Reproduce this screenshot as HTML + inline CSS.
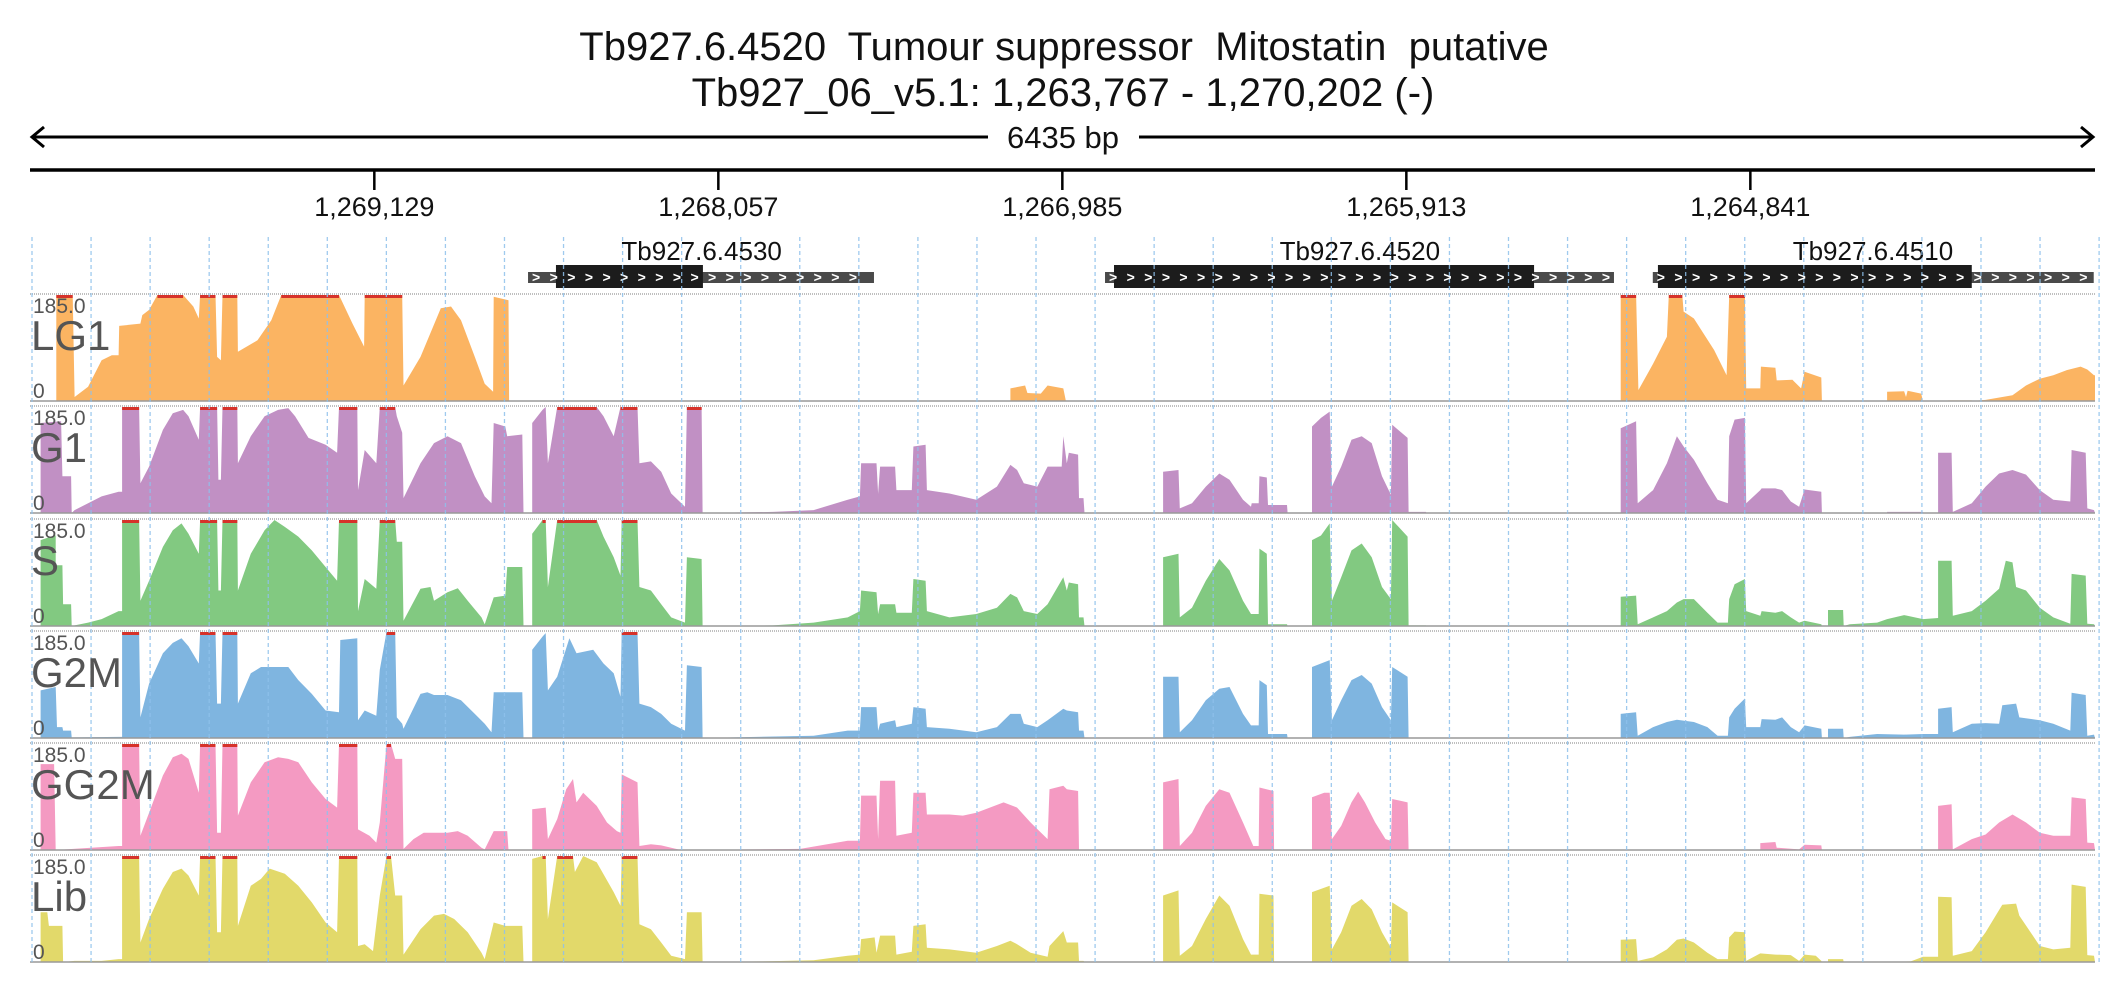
<!DOCTYPE html>
<html><head><meta charset="utf-8"><style>
html,body{margin:0;padding:0;background:#fff;width:2126px;height:1000px;overflow:hidden}
svg{display:block;font-family:"Liberation Sans",sans-serif}
text{white-space:pre}
</style></head><body>
<svg id="chart" width="2126" height="1000" viewBox="0 0 2126 1000" xmlns="http://www.w3.org/2000/svg">
<text x="1064" y="60" font-size="40" text-anchor="middle" fill="#111" xml:space="preserve">Tb927.6.4520  Tumour suppressor  Mitostatin  putative</text>
<text x="1063" y="106" font-size="40" text-anchor="middle" fill="#111">Tb927_06_v5.1: 1,263,767 - 1,270,202 (-)</text>
<g id="ruler"></g>
<g id="axis"></g>
<g id="genes"></g>
<g id="tracks"></g>
<g id="grid"></g>
<g id="labels"></g>
</svg>
<script>
const regionStart = 1270202;
const regionEnd = 1263767;
const spanLabel = "6435 bp";
const tickPositions = [1269129, 1268057, 1266985, 1265913, 1264841];
const tickLabels = ["1,269,129", "1,268,057", "1,266,985", "1,265,913", "1,264,841"];
const geneNames = ["Tb927.6.4530", "Tb927.6.4520", "Tb927.6.4510"];
const geneUtr = [[1552, 2630], [3350, 4936], [5057, 6431]];
const geneCds = [[1639, 2097], [3378, 4687], [5073, 6051]];
const geneLabelPos = [2093, 4144, 5743];
const trackNames = ["LG1", "G1", "S", "G2M", "GG2M", "Lib"];
const trackMax = 185;

const lg1Cov = [[0,0],[82,0],[82,185],[133,185],[139,7],[181,25],[223,71],[255,80],[276,80],[278,131],[344,135],[350,150],[371,159],[397,185],[477,185],[509,165],[526,144],[530,185],[578,185],[583,77],[595,71],[600,185],[646,185],[648,86],[709,106],[752,141],[783,185],[963,185],[1005,135],[1041,95],[1043,185],[1160,185],[1164,27],[1217,77],[1280,162],[1312,165],[1343,141],[1386,77],[1417,30],[1443,16],[1445,182],[1491,176],[1493,0],[3055,0],[3055,22],[3101,27],[3108,14],[3150,13],[3171,27],[3220,22],[3228,0],[4957,0],[4957,185],[5005,185],[5012,19],[5058,65],[5101,112],[5107,185],[5149,185],[5153,156],[5185,144],[5248,89],[5287,45],[5295,185],[5344,185],[5348,22],[5392,22],[5394,60],[5439,58],[5443,36],[5492,37],[5519,22],[5530,51],[5582,41],[5584,0],[5787,0],[5787,16],[5840,17],[5846,7],[5851,18],[5893,13],[5899,0],[5977,0],[5977,1],[6051,1],[6051,0],[6094,2],[6178,10],[6220,27],[6263,39],[6305,45],[6347,54],[6390,60],[6411,55],[6432,45],[6435,45],[6435,0]];
const g1Cov = [[0,0],[33,0],[33,157],[97,160],[101,64],[128,64],[130,0],[139,5],[181,17],[223,29],[276,37],[287,37],[287,185],[340,185],[344,52],[371,81],[414,145],[445,174],[477,180],[494,169],[526,128],[530,185],[583,185],[587,58],[595,58],[600,185],[646,185],[648,87],[688,134],[731,169],[773,180],[805,183],[826,169],[868,131],[921,119],[957,105],[963,185],[1020,185],[1022,40],[1043,110],[1079,87],[1090,185],[1138,185],[1143,169],[1160,140],[1164,26],[1217,87],[1259,122],[1301,134],[1343,122],[1386,64],[1417,29],[1438,17],[1445,157],[1481,151],[1487,134],[1534,137],[1538,0],[1565,0],[1565,157],[1597,180],[1607,185],[1614,87],[1643,185],[1766,185],[1787,169],[1819,134],[1840,185],[1893,185],[1899,87],[1935,90],[1967,72],[1998,34],[2041,11],[2047,185],[2093,185],[2096,0],[2315,2],[2442,5],[2548,23],[2586,29],[2590,87],[2638,87],[2643,34],[2649,81],[2696,81],[2700,40],[2748,40],[2753,116],[2791,119],[2795,40],[2865,34],[2949,23],[3013,46],[3055,84],[3076,75],[3097,52],[3139,46],[3171,81],[3215,81],[3220,134],[3231,87],[3237,105],[3266,102],[3269,26],[3283,26],[3286,0],[3531,0],[3531,72],[3579,75],[3583,8],[3621,17],[3664,46],[3706,69],[3738,58],[3780,23],[3805,11],[3807,17],[3829,17],[3831,64],[3854,62],[3858,14],[3917,14],[3919,0],[3995,0],[3995,151],[4023,166],[4050,177],[4057,46],[4086,81],[4118,128],[4150,134],[4181,122],[4213,64],[4241,32],[4245,154],[4293,131],[4296,2],[4350,2],[4352,0],[4957,0],[4957,148],[5005,160],[5010,17],[5058,40],[5101,87],[5132,134],[5153,116],[5185,93],[5227,52],[5259,23],[5291,17],[5295,134],[5312,163],[5344,166],[5348,17],[5392,40],[5396,43],[5439,43],[5460,40],[5487,20],[5513,11],[5530,41],[5582,37],[5584,0],[5787,0],[5787,2],[5899,2],[5900,0],[5946,0],[5946,105],[5988,105],[5992,2],[6051,17],[6094,46],[6136,69],[6178,75],[6220,67],[6263,40],[6305,23],[6358,20],[6362,110],[6406,105],[6411,8],[6432,5],[6435,0]];
const sCov = [[0,0],[33,0],[33,150],[75,158],[80,158],[80,106],[101,106],[103,38],[128,38],[130,0],[139,1],[181,6],[223,12],[276,26],[287,26],[287,185],[340,185],[344,44],[371,79],[414,138],[445,167],[472,179],[494,161],[526,126],[530,185],[583,185],[587,62],[595,62],[600,185],[646,185],[648,62],[688,126],[731,167],[762,185],[794,173],[836,156],[878,132],[921,103],[957,79],[963,185],[1020,185],[1022,26],[1043,82],[1079,65],[1090,185],[1138,185],[1143,147],[1160,147],[1164,9],[1217,65],[1248,68],[1259,44],[1301,59],[1333,66],[1364,44],[1407,15],[1417,3],[1445,50],[1481,53],[1487,103],[1534,103],[1538,0],[1565,0],[1565,161],[1597,185],[1607,185],[1614,68],[1643,185],[1766,185],[1787,156],[1819,120],[1840,88],[1844,185],[1893,185],[1899,68],[1935,62],[1967,38],[1998,15],[2041,6],[2047,120],[2093,117],[2096,0],[2315,1],[2442,6],[2548,15],[2586,26],[2590,62],[2638,59],[2643,21],[2649,38],[2696,38],[2700,23],[2748,23],[2753,82],[2791,79],[2795,26],[2865,15],[2949,21],[3013,32],[3055,56],[3076,50],[3097,26],[3139,21],[3171,38],[3220,85],[3231,62],[3237,76],[3266,73],[3269,15],[3283,15],[3286,0],[3531,0],[3531,120],[3579,126],[3583,15],[3621,32],[3664,79],[3706,117],[3738,97],[3780,44],[3805,21],[3829,21],[3831,135],[3854,126],[3858,3],[3917,3],[3919,0],[3995,0],[3995,150],[4023,158],[4050,179],[4057,44],[4086,85],[4118,132],[4150,144],[4181,120],[4213,68],[4241,47],[4245,185],[4293,156],[4296,1],[4350,1],[4352,0],[4957,0],[4957,51],[5005,53],[5010,3],[5058,15],[5101,26],[5132,41],[5153,47],[5185,47],[5227,23],[5259,6],[5291,6],[5295,47],[5312,73],[5344,82],[5348,26],[5392,18],[5396,26],[5439,23],[5460,26],[5487,15],[5513,6],[5530,9],[5582,3],[5584,0],[5603,0],[5603,28],[5650,28],[5652,0],[5671,3],[5756,6],[5787,12],[5840,19],[5899,12],[5946,14],[5946,114],[5988,114],[5992,18],[6051,26],[6094,44],[6136,65],[6157,114],[6178,111],[6189,68],[6220,62],[6263,32],[6305,15],[6358,4],[6362,91],[6406,88],[6411,4],[6432,3],[6435,0]];
const g2mCov = [[0,0],[33,0],[33,83],[80,89],[84,19],[101,19],[103,13],[128,13],[130,1],[276,2],[287,2],[287,185],[340,185],[344,36],[371,95],[414,148],[445,166],[472,174],[494,160],[526,130],[530,185],[578,185],[583,60],[595,60],[600,185],[646,185],[648,60],[688,113],[720,124],[752,124],[805,124],[836,101],[878,77],[921,48],[963,45],[967,171],[1020,174],[1022,31],[1043,48],[1079,39],[1090,119],[1111,185],[1138,185],[1143,36],[1160,25],[1164,16],[1217,77],[1238,80],[1259,75],[1301,75],[1343,66],[1386,42],[1417,25],[1438,10],[1445,80],[1534,80],[1538,0],[1565,0],[1565,154],[1597,177],[1607,183],[1614,83],[1643,107],[1681,174],[1703,148],[1755,154],[1787,130],[1819,113],[1840,72],[1844,185],[1893,185],[1899,60],[1935,54],[1967,42],[1998,25],[2041,13],[2047,127],[2093,124],[2096,0],[2442,4],[2548,13],[2586,13],[2590,54],[2638,54],[2643,13],[2649,25],[2696,31],[2700,19],[2748,25],[2753,54],[2791,51],[2795,19],[2865,16],[2949,10],[3013,19],[3055,42],[3087,42],[3097,25],[3139,19],[3171,31],[3220,51],[3231,48],[3266,45],[3269,13],[3283,13],[3286,0],[3531,0],[3531,107],[3579,107],[3583,10],[3621,31],[3664,66],[3706,86],[3738,89],[3780,42],[3805,22],[3829,22],[3831,101],[3854,92],[3858,7],[3917,7],[3919,0],[3995,0],[3995,124],[4023,130],[4050,136],[4057,31],[4086,66],[4118,101],[4150,110],[4181,95],[4213,54],[4241,31],[4245,124],[4293,107],[4296,0],[4957,0],[4957,42],[5005,45],[5010,4],[5058,19],[5101,28],[5132,32],[5185,28],[5227,19],[5259,4],[5291,4],[5295,36],[5312,51],[5344,69],[5348,19],[5392,19],[5396,33],[5439,32],[5460,36],[5487,19],[5513,10],[5530,22],[5582,16],[5584,0],[5603,0],[5603,16],[5650,16],[5652,0],[5671,2],[5756,7],[5840,6],[5899,7],[5946,7],[5946,51],[5988,54],[5992,10],[6051,25],[6094,26],[6136,25],[6146,57],[6189,60],[6199,36],[6263,31],[6305,25],[6358,13],[6362,79],[6406,75],[6411,4],[6432,6],[6435,0]];
const gg2mCov = [[0,0],[33,0],[33,150],[75,150],[80,0],[276,7],[287,7],[287,185],[340,185],[344,25],[371,65],[414,130],[445,162],[472,168],[494,159],[526,100],[530,185],[578,185],[583,30],[595,30],[600,185],[646,185],[648,60],[688,118],[731,153],[773,162],[805,159],[836,153],[878,118],[921,89],[957,74],[963,185],[1020,185],[1022,36],[1058,25],[1079,13],[1090,48],[1111,185],[1125,185],[1138,159],[1160,159],[1164,2],[1195,19],[1227,30],[1259,30],[1301,30],[1333,33],[1364,25],[1407,4],[1417,1],[1445,33],[1487,33],[1491,0],[1565,0],[1565,71],[1607,74],[1614,19],[1643,54],[1671,106],[1692,124],[1703,83],[1724,100],[1766,77],[1798,48],[1829,33],[1840,30],[1844,132],[1893,118],[1899,7],[1935,10],[1967,8],[1998,4],[2020,1],[2030,0],[2400,2],[2548,16],[2586,16],[2590,95],[2638,95],[2643,19],[2649,121],[2696,121],[2700,25],[2748,30],[2753,100],[2791,100],[2795,62],[2865,62],[2907,60],[2949,65],[2991,74],[3034,83],[3076,74],[3118,48],[3171,19],[3177,106],[3220,112],[3231,106],[3266,103],[3269,0],[3531,0],[3531,118],[3579,124],[3583,7],[3621,30],[3664,77],[3706,106],[3738,100],[3780,48],[3812,7],[3829,7],[3831,109],[3875,103],[3877,0],[3995,0],[3995,92],[4033,100],[4050,100],[4057,19],[4086,42],[4118,83],[4139,102],[4160,83],[4192,48],[4224,19],[4241,16],[4245,89],[4293,83],[4296,0],[5392,0],[5392,12],[5439,14],[5443,4],[5513,1],[5530,9],[5582,8],[5584,0],[5946,0],[5946,77],[5988,80],[5992,1],[6051,19],[6094,27],[6136,48],[6178,62],[6220,48],[6263,30],[6305,25],[6358,25],[6362,92],[6406,89],[6411,13],[6432,12],[6435,0]];
const libCov = [[0,0],[33,0],[33,87],[54,87],[59,63],[101,63],[103,0],[139,2],[223,2],[276,5],[287,5],[287,185],[340,185],[344,34],[371,75],[414,128],[445,157],[472,163],[494,151],[526,116],[530,185],[578,185],[583,52],[595,52],[600,185],[646,185],[648,63],[688,133],[720,145],[747,163],[794,154],[836,133],[878,104],[921,69],[957,52],[963,185],[1020,185],[1022,28],[1043,31],[1069,19],[1090,116],[1111,185],[1125,185],[1138,116],[1160,116],[1164,13],[1217,57],[1259,81],[1290,84],[1322,75],[1364,52],[1407,16],[1417,5],[1445,69],[1481,63],[1534,63],[1538,0],[1565,0],[1565,180],[1597,185],[1607,185],[1614,75],[1643,185],[1692,185],[1698,157],[1724,185],[1766,174],[1819,122],[1840,98],[1844,185],[1893,185],[1899,66],[1935,57],[1967,34],[1998,11],[2041,5],[2047,87],[2093,87],[2096,0],[2273,1],[2442,3],[2548,11],[2586,13],[2590,40],[2632,43],[2638,16],[2649,46],[2696,46],[2700,13],[2748,18],[2753,63],[2791,66],[2795,25],[2865,22],[2949,16],[3013,28],[3055,37],[3076,31],[3118,16],[3171,9],[3177,28],[3220,54],[3231,34],[3266,34],[3269,2],[3283,2],[3286,0],[3531,0],[3531,116],[3579,125],[3583,11],[3621,28],[3664,75],[3706,116],[3738,98],[3780,40],[3805,13],[3829,13],[3831,119],[3875,116],[3877,0],[3995,0],[3995,122],[4050,133],[4057,22],[4086,52],[4118,98],[4150,110],[4181,92],[4213,52],[4241,25],[4245,104],[4293,87],[4296,0],[4957,0],[4957,39],[5005,40],[5010,2],[5058,8],[5101,22],[5132,39],[5153,41],[5185,34],[5227,16],[5259,5],[5291,5],[5295,43],[5312,53],[5344,52],[5348,2],[5392,15],[5439,13],[5487,12],[5513,2],[5530,13],[5565,11],[5582,2],[5584,0],[5603,0],[5603,5],[5650,5],[5652,0],[5861,1],[5899,9],[5946,9],[5946,114],[5988,113],[5992,11],[6051,19],[6094,52],[6146,100],[6189,102],[6199,81],[6263,28],[6305,22],[6358,25],[6362,135],[6406,131],[6411,12],[6432,11],[6435,0]];

const NS = "http://www.w3.org/2000/svg";
const X0 = 30, X1 = 2095;
const spanBp = regionStart - regionEnd;
function xOff(bp) { return X0 + bp / spanBp * (X1 - X0); }
function xGen(pos) { return xOff(regionStart - pos); }
function mk(tag, attrs, parent) {
  const e = document.createElementNS(NS, tag);
  for (const k in attrs) e.setAttribute(k, attrs[k]);
  parent.appendChild(e);
  return e;
}

// ruler
const ruler = document.getElementById('ruler');
const rl = mk('line', {x1: X0 + 3, y1: 137, x2: 988, y2: 137, stroke: '#000', 'stroke-width': 3}, ruler);


const rr = mk('line', {x1: 1139, y1: 137, x2: X1 - 3, y2: 137, stroke: '#000', 'stroke-width': 3}, ruler);


const al = mk('polyline', {points: `${X0+14},127 ${X0+2},137 ${X0+14},147`, fill: 'none', stroke: '#000', 'stroke-width': 3}, ruler);


const ar = mk('polyline', {points: `${X1-14},127 ${X1-2},137 ${X1-14},147`, fill: 'none', stroke: '#000', 'stroke-width': 3}, ruler);


const sl = mk('text', {x: 1063, y: 148, 'font-size': 31, 'text-anchor': 'middle', fill: '#111'}, ruler);
sl.textContent = spanLabel;



// axis
const axis = document.getElementById('axis');
const axl = mk('line', {x1: X0, y1: 170, x2: X1, y2: 170, stroke: '#000', 'stroke-width': 3.5}, axis);


tickPositions.forEach((p, i) => {
  const x = xGen(p);
  const t = mk('line', {x1: x, y1: 170, x2: x, y2: 190, stroke: '#000', 'stroke-width': 2.5}, axis);
  
  
  const l = mk('text', {x: x, y: 216, 'font-size': 27, 'text-anchor': 'middle', fill: '#111'}, axis);
  l.textContent = tickLabels[i];
  
  
});

// genes
const genes = document.getElementById('genes');
geneNames.forEach((n, i) => {
  const u0 = xOff(geneUtr[i][0]), u1 = xOff(geneUtr[i][1]);
  const c0 = xOff(geneCds[i][0]), c1 = xOff(geneCds[i][1]);
  const g = mk('g', {}, genes);
  
  
  const ur = mk('rect', {x: u0, y: 272, width: u1 - u0, height: 11, fill: '#4a4a4a'}, g);
  
  
  const cr = mk('rect', {x: c0, y: 265, width: c1 - c0, height: 23, fill: '#1c1c1c'}, g);
  
  
  for (let x = u0 + 4; x < u1 - 8; x += 17.6) {
    const ch = mk('text', {x: x, y: 282, 'font-size': 14, 'font-weight': 'bold', fill: '#fff'}, g);
    ch.textContent = '>';
    
    
  }
  const lb = mk('text', {x: xOff(geneLabelPos[i]), y: 260, 'font-size': 26, 'text-anchor': 'middle', fill: '#111'}, g);
  lb.textContent = n;
  
  
});

// tracks
const covData = [lg1Cov, g1Cov, sCov, g2mCov, gg2mCov, libCov];
const colors = ['#fbb462', '#c190c4', '#82c981', '#7fb5e0', '#f49ac2', '#e2d96a'];
const trackTops = [295, 407, 520, 632, 744, 856];
const trackH = 106;
const tracks = document.getElementById('tracks');
const labels = document.getElementById('labels');
covData.forEach((cov, ti) => {
  const top = trackTops[ti], base = top + trackH;
  const yv = v => base - Math.min(v, trackMax) / trackMax * trackH;
  const g = mk('g', {}, tracks);
  
  
  const tl = mk('line', {x1: X0, y1: top - 1, x2: X1, y2: top - 1, stroke: '#aaa', 'stroke-width': 1.5, 'stroke-dasharray': '1 1'}, g);
  
  
  let pts = cov.map(p => xOff(p[0]).toFixed(1) + ',' + yv(p[1]).toFixed(1));
  pts.push(xOff(cov[cov.length - 1][0]).toFixed(1) + ',' + base);
  pts.unshift(xOff(cov[0][0]).toFixed(1) + ',' + base);
  const area = mk('polygon', {points: pts.join(' '), fill: colors[ti]}, g);
  
  
  for (let k = 0; k < cov.length - 1; k++) {
    if (cov[k][1] >= trackMax && cov[k + 1][1] >= trackMax) {
      const xa = xOff(cov[k][0]), xb = xOff(cov[k + 1][0]);
      const cap = mk('rect', {x: xa, y: top, width: Math.max(1, xb - xa), height: 3, fill: '#d6322a'}, g);
      
      
    }
  }
  const bl = mk('line', {x1: X0, y1: base, x2: X1, y2: base, stroke: '#999', 'stroke-width': 1.5}, g);
  
  

  const mx = mk('text', {x: 33, y: top + 18, 'font-size': 21, fill: '#555'}, labels);
  mx.textContent = trackMax.toFixed(1);
  
  
  const nm = mk('text', {x: 31, y: top + 55, 'font-size': 42, fill: '#555'}, labels);
  nm.textContent = trackNames[ti];
  
  
  const z = mk('text', {x: 33, y: base - 3, 'font-size': 21, fill: '#555'}, labels);
  z.textContent = '0';
  
  
});

// grid
const grid = document.getElementById('grid');
for (let i = 0; i <= 35; i++) {
  const x = 32 + i * 59.06;
  const gl = mk('line', {x1: x, y1: 237, x2: x, y2: 963, stroke: '#8fc1ec', 'stroke-width': 1.3, 'stroke-dasharray': '4 3', opacity: 0.85}, grid);
  
  
}
</script>
</body></html>
